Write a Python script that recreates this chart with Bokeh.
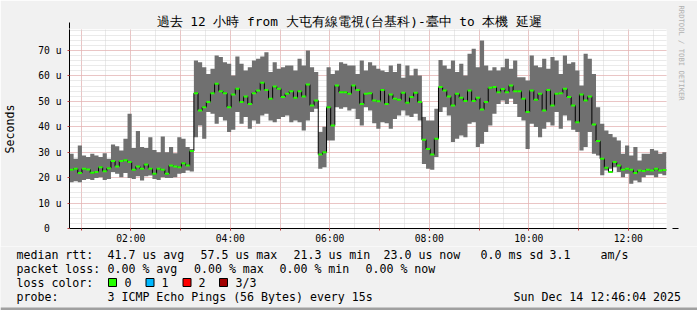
from datetime import datetime, timedelta
from bokeh.plotting import figure
from bokeh.layouts import column
from bokeh.models import (Range1d, FixedTicker, DatetimeTickFormatter, Title, Arrow, NormalHead)
from bokeh.core.properties import value
from bokeh.embed import file_html
from bokeh.resources import INLINE

# ---------------- data ----------------
title_text = "過去 12 小時 from 大屯有線電視(台基科)-臺中 to 本機 延遲"
y_label = "Seconds"
watermark = "RRDTOOL / TOBI OETIKER"
start = datetime(2025, 12, 14, 0, 46, 4)
end = datetime(2025, 12, 14, 12, 46, 4)
bin_minutes = 5

median = [
    23.1, 23.5, 21.8, 23.5, 23.2, 21.9, 22.2, 24.1, 22.5, 23.7, 26.5, 24.4, 26.5, 26.8, 26.1, 23.1, 24.4, 23.5,
    25.2, 23.5, 21.5, 23.5, 23.1, 21.5, 24.8, 24.4, 24.1, 25.7, 24.8, 30.5, 53.2, 46.4, 47.7, 49.7, 53.2, 56.9,
    54.0, 53.2, 47.7, 52.7, 55.0, 49.7, 51.9, 49.0, 53.2, 54.3, 57.3, 54.5, 51.0, 55.8, 55.0, 51.7, 53.0, 54.0,
    51.4, 54.0, 51.9, 56.6, 48.4, 50.3, 29.1, 30.0, 47.7, 40.5, 56.2, 53.6, 53.6, 53.0, 56.2, 54.5, 49.0, 53.0,
    53.2, 50.3, 50.0, 54.5, 49.0, 52.7, 51.0, 50.6, 53.4, 49.4, 51.7, 53.4, 49.7, 34.9, 31.3, 29.1, 35.3, 55.6,
    54.3, 51.9, 48.4, 53.0, 51.4, 50.1, 54.3, 50.1, 51.4, 46.8, 49.7, 55.3, 55.6, 53.6, 54.9, 53.6, 56.2, 54.0,
    54.0, 51.0, 45.8, 54.3, 50.6, 53.0, 46.4, 54.5, 48.4, 53.0, 53.2, 55.0, 51.7, 48.4, 41.8, 52.7, 50.3, 51.9,
    40.9, 34.4, 27.4, 23.9, 22.2, 26.1, 24.8, 23.1, 23.5, 23.1, 21.8, 22.8, 22.6, 23.1, 22.8, 23.5, 22.8, 23.0,
]
smoke_max = [
    29.4, 27.4, 32.6, 28.7, 28.1, 29.4, 28.7, 28.1, 29.6, 27.4, 33.0, 32.3, 30.7, 35.3, 45.1, 31.7, 38.3, 32.0,
    31.7, 35.9, 30.9, 30.0, 36.2, 30.0, 32.0, 29.6, 35.9, 35.3, 32.0, 31.3, 66.1, 65.4, 63.4, 60.8, 62.8, 68.0,
    67.4, 65.4, 64.8, 60.2, 67.6, 64.8, 62.1, 63.4, 66.1, 66.7, 67.6, 69.3, 61.5, 65.4, 62.8, 63.4, 64.1, 64.1,
    62.1, 66.7, 64.1, 70.0, 63.4, 61.5, 37.9, 40.0, 63.4, 60.8, 62.1, 65.4, 64.8, 64.1, 64.1, 60.8, 66.1, 62.1,
    65.4, 64.1, 62.8, 62.1, 61.5, 64.1, 61.5, 64.8, 59.3, 64.1, 60.2, 62.8, 60.2, 43.8, 42.5, 42.5, 47.1, 66.3,
    64.1, 62.8, 66.1, 61.5, 64.8, 60.2, 68.7, 70.7, 63.4, 73.9, 64.1, 62.1, 63.4, 62.1, 63.4, 66.7, 62.8, 66.1,
    59.5, 59.5, 58.2, 68.0, 64.1, 63.4, 66.7, 62.8, 67.4, 66.1, 60.8, 68.0, 64.8, 65.4, 62.1, 56.2, 68.7, 66.7,
    60.8, 47.7, 41.2, 38.5, 37.2, 35.9, 34.6, 29.4, 32.6, 28.7, 32.0, 26.7, 29.4, 29.4, 31.3, 30.7, 29.4, 30.0,
]
smoke_min = [
    18.2, 18.6, 18.2, 19.1, 19.5, 19.1, 19.9, 20.2, 19.1, 19.5, 22.2, 21.5, 20.2, 21.8, 19.9, 19.5, 20.5, 18.9,
    20.5, 20.8, 19.5, 19.1, 20.2, 19.9, 19.9, 20.2, 21.5, 21.8, 22.8, 22.4, 35.9, 40.5, 35.3, 45.8, 45.1, 41.2,
    43.8, 42.5, 37.9, 38.8, 45.8, 41.2, 43.8, 39.2, 42.5, 41.2, 44.4, 45.1, 42.5, 41.8, 43.1, 43.8, 44.4, 41.8,
    42.5, 41.8, 38.5, 42.5, 45.8, 47.1, 23.5, 24.1, 34.6, 34.6, 47.7, 47.1, 47.7, 46.4, 47.1, 43.1, 40.5, 47.7,
    46.4, 41.4, 39.2, 41.8, 41.4, 39.2, 43.1, 44.4, 46.4, 44.4, 43.8, 45.1, 42.5, 25.4, 23.5, 23.1, 28.1, 45.8,
    47.7, 44.4, 34.0, 35.3, 36.6, 35.9, 41.2, 41.8, 32.0, 33.3, 37.9, 40.5, 45.1, 49.0, 50.3, 49.0, 51.0, 49.0,
    43.8, 42.5, 31.3, 41.2, 39.9, 35.9, 39.2, 41.8, 40.5, 45.8, 39.2, 44.4, 42.5, 38.8, 37.9, 30.7, 32.0, 37.9,
    29.4, 28.7, 20.9, 22.8, 23.5, 24.1, 22.2, 20.2, 21.5, 17.6, 18.9, 18.2, 20.2, 20.9, 20.9, 20.2, 21.5, 20.9,
]
y_ticks = [0, 10, 20, 30, 40, 50, 60, 70]
y_tick_labels = ["0\u00a0\u00a0", "10 u", "20 u", "30 u", "40 u", "50 u", "60 u", "70 u"]
label_hours = [2, 4, 6, 8, 10, 12]

legend_texts = ["median rtt:", "41.7 us avg", "57.5 us max", "21.3 us min", "23.0 us now", "0.0 ms sd", "3.1", "am/s",
                "packet loss:", "0.00 % avg", "0.00 % max", "0.00 % min", "0.00 % now",
                "loss color:", "0", "1", "2", "3/3",
                "probe:", "3 ICMP Echo Pings (56 Bytes) every 15s", "Sun Dec 14 12:46:04 2025"]
legend_x = [16, 107, 200, 293, 383, 480, 549, 600,
            16, 107, 193.5, 279, 365,
            16, 124, 161, 198, 235,
            16, 107, 513]
legend_y = [254.3] * 8 + [268.3] * 5 + [282.3] * 5 + [296.3] * 3
loss_colors = ["#26ff00", "#00b8ff", "#ff0000", "#a10000"]
loss_square_x = [108, 145.5, 182.5, 219]

# ---------------- main figure ----------------
W, H = 697, 310
FL, FR, FT, FB = 67, 667, 29, 228
MAIN_H = 246
MONO = "DejaVu Sans Mono"
BG = "#f1f1f1"

times = [start + timedelta(minutes=bin_minutes * i) for i in range(len(median))]
times_r = [t + timedelta(minutes=bin_minutes) for t in times]

p = figure(width=W, height=MAIN_H, x_axis_type="datetime", output_backend="svg", toolbar_location=None,
           min_border_left=FL, min_border_right=W - FR, min_border_top=FT, min_border_bottom=MAIN_H - FB,
           x_range=Range1d(start, end), y_range=Range1d(0, 78.25))
p.background_fill_color = "white"
p.border_fill_color = BG
p.outline_line_color = None

p.title.text = title_text
p.title.align = "left"
p.title.offset = 87
p.title.standoff = 2
p.title.text_font = MONO
p.title.text_font_size = "12.8px"
p.title.text_font_style = "normal"
p.title.text_color = "black"

p.add_layout(Title(text=watermark, align="left", offset=-24, text_font=MONO, text_font_size="7.2px",
                   text_color="#b0b0b0", text_font_style="normal", standoff=20), "right")


def ms(dt):
    return (dt - datetime(1970, 1, 1)).total_seconds() * 1000.0


day0 = datetime(2025, 12, 14)
hourly = [ms(day0 + timedelta(hours=h)) for h in range(0, 14)]
half = [ms(day0 + timedelta(minutes=30 * k)) for k in range(0, 28)]
two_h = [ms(day0 + timedelta(hours=h)) for h in label_hours]

# grid
p.xgrid.ticker = FixedTicker(ticks=hourly, minor_ticks=half)
p.ygrid.ticker = FixedTicker(ticks=y_ticks, minor_ticks=list(range(0, 80, 2)))
for g in (p.xgrid, p.ygrid):
    g.grid_line_color = "#eaa0a0"
    g.grid_line_dash = "1 1"
    g.grid_line_width = 1
    g.minor_grid_line_color = "#d4d4d4"
    g.minor_grid_line_dash = "1 1"

# axes
p.xaxis.ticker = FixedTicker(ticks=two_h, minor_ticks=hourly)
p.xaxis.formatter = DatetimeTickFormatter(hours="%H:%M", hourmin="%H:%M", minutes="%H:%M",
                                          days="%H:%M", minsec="%H:%M", seconds="%H:%M")
p.yaxis.ticker = FixedTicker(ticks=y_ticks)
p.yaxis.major_label_overrides = {t: s for t, s in zip(y_ticks, y_tick_labels)}
for ax in (p.xaxis[0], p.yaxis[0]):
    ax.axis_line_color = "black"
    ax.major_tick_line_color = "#c04040"
    ax.minor_tick_line_color = "#c04040"
    ax.major_tick_in = 0
    ax.minor_tick_in = 0
    ax.major_tick_out = 2
    ax.minor_tick_out = 2
    ax.major_label_text_font = MONO
    ax.major_label_text_font_size = "9.7px"
    ax.major_label_text_color = "black"
p.yaxis.minor_tick_line_color = None
p.yaxis.major_label_standoff = 6
p.xaxis.major_label_standoff = 2
p.yaxis.axis_label = y_label
p.yaxis.axis_label_text_font = MONO
p.yaxis.axis_label_text_font_size = "11.6px"
p.yaxis.axis_label_text_font_style = "normal"
p.yaxis.axis_label_text_color = "black"
p.yaxis.axis_label_standoff = 18

# smoke
p.varea_step(x=times + [end], y1=smoke_min + [smoke_min[-1]], y2=smoke_max + [smoke_max[-1]],
             step_mode="after", fill_color="#707070")
# median line
p.step(x=times + [end], y=median + [median[-1]], mode="after", line_color="black", line_width=1)
p.segment(x0=times, x1=times_r, y0=median, y1=median, line_color="#26ff00", line_width=2)

# axis arrows
p.add_layout(Arrow(x_start=0, y_start=FB - 30, x_end=0, y_end=FB - 22, start_units="screen",
                   end_units="screen", line_color="black", line_width=1,
                   end=NormalHead(size=6, fill_color="#a01010", line_color="#a01010")))
p.add_layout(Arrow(x_start=FR - FL, y_start=0, x_end=FR - FL + 9, y_end=0, start_units="screen",
                   end_units="screen", line_color="black", line_width=1,
                   end=NormalHead(size=6, fill_color="#a01010", line_color="#a01010")))

# ---------------- legend strip (pixel coordinates) ----------------
leg = figure(width=W, height=H - MAIN_H, output_backend="svg", toolbar_location=None,
             x_range=Range1d(0, W), y_range=Range1d(H, MAIN_H), min_border=0,
             x_axis_location=None, y_axis_location=None)
leg.grid.visible = False
leg.outline_line_color = None
leg.background_fill_color = BG
leg.border_fill_color = BG
leg.text(x=legend_x, y=legend_y, text=legend_texts, text_font=value(MONO), text_font_size="11.6px",
         text_baseline="middle", text_align="left", text_color="black")
leg.quad(left=loss_square_x, right=[x + 8 for x in loss_square_x], top=[278] * 4, bottom=[286] * 4,
         fill_color=loss_colors, line_color="black", line_width=1)
# bottom shading of the canvas border
leg.quad(left=[0], right=[W], top=[307], bottom=[H], fill_color="#a0a0a0", line_color=None)

for fig in (p, leg):
    try:
        fig.frame_align = False
    except AttributeError:
        pass

open("out.html", "w").write(file_html(column(p, leg, spacing=0), INLINE))
